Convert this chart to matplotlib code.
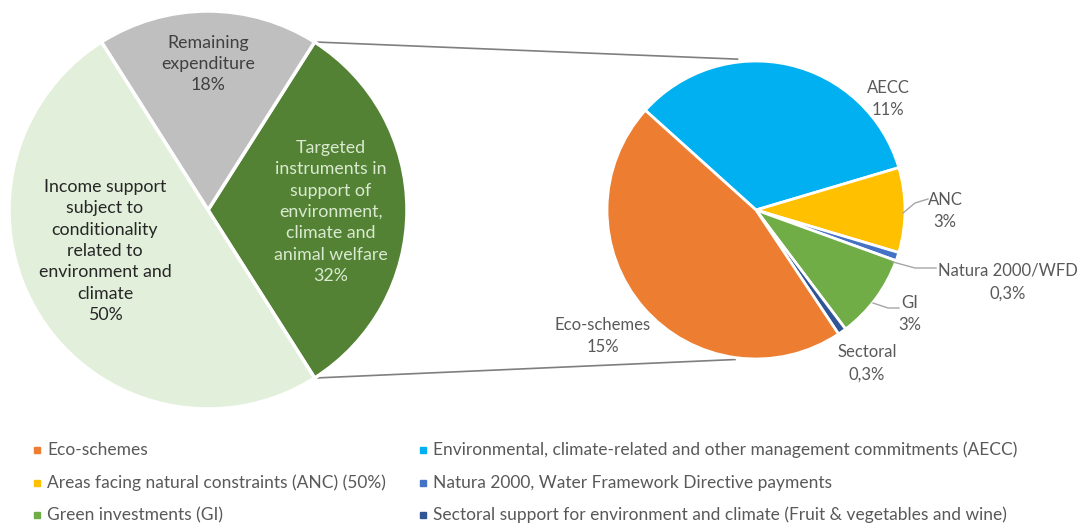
import numpy as np
import matplotlib.pyplot as plt

plt.rcParams['font.family'] = ['Lato', 'DejaVu Sans']

# main pie
main_labels = ['Targeted\ninstruments in\nsupport of\nenvironment,\nclimate and\nanimal welfare',
               'Remaining\nexpenditure',
               'Income support\nsubject to\nconditionality\nrelated to\nenvironment and\nclimate']
main_values = [32, 18, 50]
main_colors = ['#548235', '#BFBFBF', '#E2EFDA']

# breakdown of the targeted instruments
sub_labels = ['AECC', 'ANC', 'Natura 2000/WFD', 'GI', 'Sectoral', 'Eco-schemes']
sub_pct = ['11%', '3%', '0,3%', '3%', '0,3%', '15%']
sub_values = [11, 3, 0.3, 3, 0.3, 15]
sub_colors = ['#00B0F0', '#FFC000', '#4472C4', '#70AD47', '#2F5597', '#ED7D31']

legend_labels = ['Eco-schemes',
                 'Environmental, climate-related and other management commitments (AECC)',
                 'Areas facing natural constraints (ANC) (50%)',
                 'Natura 2000, Water Framework Directive payments',
                 'Green investments (GI)',
                 'Sectoral support for environment and climate (Fruit & vegetables and wine)']
legend_colors = ['#ED7D31', '#00B0F0', '#FFC000', '#4472C4', '#70AD47', '#2F5597']

W, H = 1081, 525
fig = plt.figure(figsize=(W / 100, H / 100), dpi=100)
ax = fig.add_axes([0, 0, 1, 1])

def Y(y):
    return H - y

c1 = (208, Y(210)); r1 = 199
c2 = (756, Y(210)); r2 = 149

start1 = -main_values[0] / 100 * 360 / 2
ax.pie(main_values, colors=main_colors, center=c1, radius=r1, startangle=start1,
       counterclock=True, wedgeprops=dict(edgecolor='white', linewidth=2.5), frame=True)

start2 = 138
ax.pie(sub_values, colors=sub_colors, center=c2, radius=r2, startangle=start2,
       counterclock=False, wedgeprops=dict(edgecolor='white', linewidth=2), frame=True)
ax.set_xlim(0, W)
ax.set_ylim(0, H)
ax.set_aspect('equal')
ax.axis('off')

# connector lines from targeted wedge to the breakdown pie
a = np.deg2rad(start1 + main_values[0] / 100 * 360)
p_top = (c1[0] + r1 * np.cos(a), c1[1] + r1 * np.sin(a))
p_bot = (c1[0] + r1 * np.cos(-a), c1[1] + r1 * np.sin(-a))
q_top = (c2[0] + (r2 + 3) * np.cos(np.deg2rad(97)), c2[1] + (r2 + 3) * np.sin(np.deg2rad(97)))
q_bot = (c2[0] + (r2 + 2) * np.cos(np.deg2rad(-98)), c2[1] + (r2 + 2) * np.sin(np.deg2rad(-98)))
ax.plot([p_top[0], q_top[0]], [p_top[1], q_top[1]], color='#7F7F7F', lw=1.2, zorder=0)
ax.plot([p_bot[0], q_bot[0]], [p_bot[1], q_bot[1]], color='#7F7F7F', lw=1.2, zorder=0)

fs = 12.8
ls = 1.42
ax.text(208, Y(64), main_labels[1] + '\n' + f'{main_values[1]}%', ha='center', va='center',
        fontsize=fs, color='#404040', linespacing=ls)
ax.text(331, Y(212), main_labels[0] + '\n' + f'{main_values[0]}%', ha='center', va='center',
        fontsize=fs, color='#D9EAD0', linespacing=ls)
ax.text(105, Y(251), main_labels[2] + '\n' + f'{main_values[2]}%', ha='center', va='center',
        fontsize=fs, color='#262626', linespacing=ls)

# labels for the breakdown pie
lab_pos = [(888, 99), (945, 211), (1008, 282), (910, 314), (867, 363), (603, 336)]
for name, pct, (x, y) in zip(sub_labels, sub_pct, lab_pos):
    ax.text(x, Y(y), name + '\n' + pct, ha='center', va='center', fontsize=12,
            color='#595959', linespacing=1.5)

# leader lines
leaders = [[(903, 213), (915, 203), (928, 199)],
           [(893, 262), (915, 268), (936, 268)],
           [(873, 303), (888, 308), (899, 308)]]
for pts in leaders:
    xs = [p[0] for p in pts]
    ys = [Y(p[1]) for p in pts]
    ax.plot(xs, ys, color='#A6A6A6', lw=1)

# legend
rows = [450, 483, 515]
cols = [37, 423]
for i, (lab, col) in enumerate(zip(legend_labels, legend_colors)):
    x = cols[i % 2]
    y = rows[i // 2]
    ax.plot(x, Y(y), marker='s', ms=4.5, color=col, mec=col)
    ax.text(x + 10, Y(y), lab, ha='left', va='center', fontsize=12.5, color='#595959')

fig.savefig('out.png', dpi=100)
